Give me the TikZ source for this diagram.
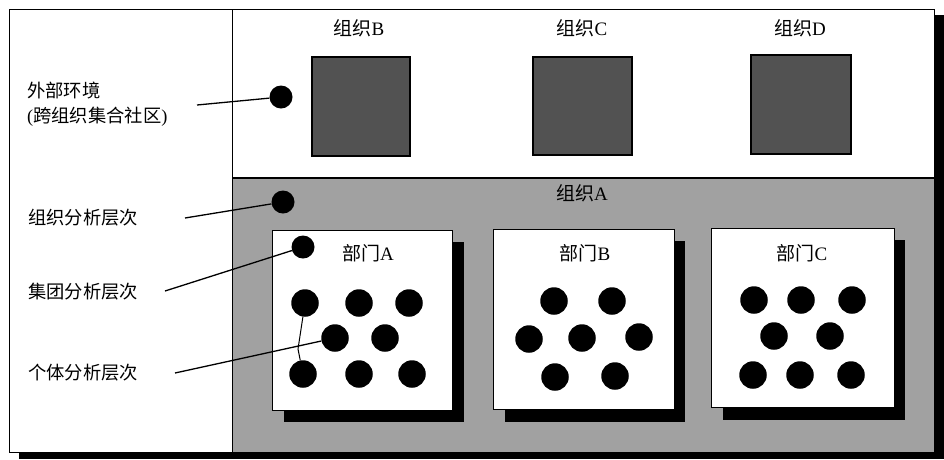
\documentclass[tikz,border=0pt]{standalone}
\usepackage{fontspec}
\setmainfont{Liberation Serif}
\newfontfamily\cjk{Noto Sans CJK SC}
\begin{document}
\begin{tikzpicture}[x=1pt,y=-1pt,
  lbl/.style={font=\fontsize{18.3}{21}\selectfont, inner sep=0pt, anchor=west},
  ttl/.style={font=\fontsize{19}{22}\selectfont, inner sep=0pt},
  dot/.style={circle, fill=black, inner sep=0pt, minimum size=27.5pt},
  gdot/.style={circle, fill=black, inner sep=0pt, minimum size=23pt},
  orgsq/.style={draw=black, line width=1.2pt, fill=black!68},
  deptbox/.style={draw=black, line width=1pt, fill=white},
  conn/.style={draw=black, line width=1.3pt}
]
\useasboundingbox (0,0) rectangle (944,459);
% outer frame with shadow
\fill[black] (19,15) rectangle (944,459);
\draw[fill=white, line width=1pt] (9,9) rectangle (934,452);
% gray organisation band
\fill[black!37] (232,178) rectangle (934,452);
\draw[line width=1pt] (232,9) -- (232,452);
\draw[line width=1.2pt] (232,178) -- (934,178);
\draw[line width=1pt] (9,9) rectangle (934,452);

% other organisations
\node[ttl] (tB) at (359,28) {{\cjk 组织}B};
\node[ttl] (tC) at (582,28) {{\cjk 组织}C};
\node[ttl] (tD) at (800,28) {{\cjk 组织}D};
\path[orgsq] (312,57) rectangle (410,156);
\path[orgsq] (533,57) rectangle (632,155);
\path[orgsq] (751,55) rectangle (851,154);

\node[ttl] (tA) at (582,193) {{\cjk 组织}A};

% departments with shadows
\fill[black] (284,242) rectangle (464,422);
\path[deptbox] (272,230) rectangle (452,410);
\fill[black] (505,241) rectangle (685,422);
\path[deptbox] (493,229) rectangle (674,409);
\fill[black] (723,240) rectangle (905,420);
\path[deptbox] (711,228) rectangle (894,407);
\node[ttl] (dA) at (368,253) {{\cjk 部门}A};
\node[ttl] (dB) at (585,253) {{\cjk 部门}B};
\node[ttl] (dC) at (802,253) {{\cjk 部门}C};

% dots
\node[gdot] (ext) at (281,97) {};
\node[gdot] (org) at (283,202) {};
\node[gdot] (grp) at (303,247) {};
% dept A
\node[dot] (a1) at (305,303) {};
\node[dot] (a2) at (359,303) {};
\node[dot] (a3) at (409,303) {};
\node[dot] (a4) at (335,338) {};
\node[dot] (a5) at (385,338) {};
\node[dot] (a6) at (303,374) {};
\node[dot] (a7) at (359,374) {};
\node[dot] (a8) at (412,374) {};
% dept B
\node[dot] (b1) at (554,301) {};
\node[dot] (b2) at (612,301) {};
\node[dot] (b3) at (529,339) {};
\node[dot] (b4) at (582,338) {};
\node[dot] (b5) at (639,337) {};
\node[dot] (b6) at (555,377) {};
\node[dot] (b7) at (615,376) {};
% dept C
\node[dot] (c1) at (754,300) {};
\node[dot] (c2) at (801,300) {};
\node[dot] (c3) at (852,300) {};
\node[dot] (c4) at (774,336) {};
\node[dot] (c5) at (830,336) {};
\node[dot] (c6) at (753,375) {};
\node[dot] (c7) at (800,375) {};
\node[dot] (c8) at (851,375) {};

% left labels
\node[lbl] (l1) at (27,91) {\cjk 外部环境};
\node[lbl] (l1b) at (27,117) {({\cjk 跨组织集合社区})};
\node[lbl] (l2) at (28,218) {\cjk 组织分析层次};
\node[lbl] (l3) at (28,292) {\cjk 集团分析层次};
\node[lbl] (l4) at (28,373) {\cjk 个体分析层次};

% connectors
\coordinate (s1) at (197,105);
\coordinate (s2) at (185,218);
\coordinate (s3) at (165,291);
\coordinate (s4) at (175,373);
\coordinate (k) at (298,349);
\draw[conn] (s1) -- (ext);
\draw[conn] (s2) -- (org);
\draw[conn] (s3) -- (grp);
\draw[conn] (s4) -- (a4);
\draw[line width=1pt] (a1) -- (k) -- (a6);
\end{tikzpicture}
\end{document}
